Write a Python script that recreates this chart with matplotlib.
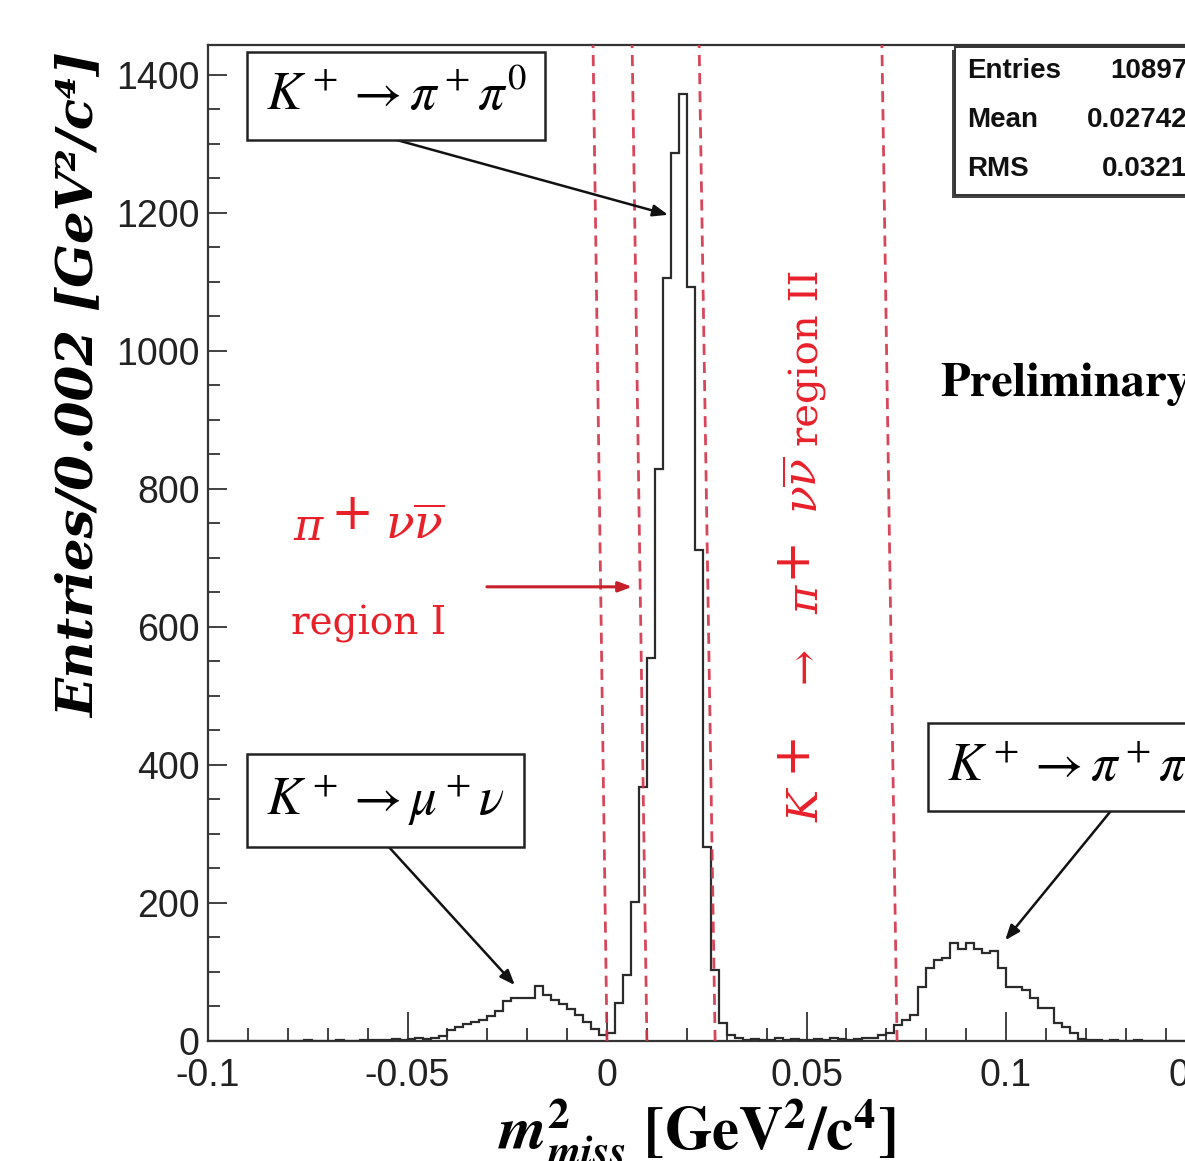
import matplotlib
matplotlib.use("Agg")
import matplotlib.pyplot as plt
import matplotlib.ticker as ticker
import numpy as np

plt.rcParams.update({
    "font.family": "Liberation Sans",
    "mathtext.fontset": "stix",
})

# ── data: missing-mass histogram, 0.002 wide bins from -0.1 to 0.15 ─────────
bin_lo, bin_hi, bin_w = -0.1, 0.15, 0.002
counts = [
    # -0.100 .. -0.060
    0, 0, 0, 0, 0, 0, 0, 0, 0, 0, 0, 0, 1, 0, 0, 0, 1, 0, 0, 1,
    # -0.060 .. -0.040
    1, 2, 1, 3, 2, 3, 4, 3, 5, 7,
    # -0.040 .. 0.000  (K+ -> mu+ nu tail)
    16, 20, 24, 28, 31, 36, 44, 58, 62, 62, 63, 80, 66, 60, 53, 46, 37, 28, 18, 8,
    # 0.000 .. 0.032  (K+ -> pi+ pi0 peak)
    12, 55, 96, 201, 368, 555, 828, 1106, 1287, 1372, 1093, 711, 281, 103, 26, 9,
    # 0.032 .. 0.070
    4, 2, 3, 1, 2, 4, 2, 3, 2, 1, 3, 2, 4, 3, 2, 3, 4, 5, 8,
    # 0.070 .. 0.120  (K+ -> 3 pi)
    12, 23, 30, 38, 78, 106, 117, 120, 142, 134, 142, 134, 127, 131, 106,
    78, 78, 74, 62, 48, 48, 26, 20, 12, 3,
    # 0.120 .. 0.150
    2, 1, 0, 1, 0, 0, 1, 0, 0, 0, 0, 0, 0, 0, 0,
]

# signal-region boundaries (hand-drawn, slightly slanted: bottom / top)
cut_bottom = [0.0, 0.0100, 0.0271, 0.0727]
cut_top    = [-0.0035, 0.0063, 0.0231, 0.0689]

stat_names  = ["Entries", "Mean", "RMS"]
stat_values = ["10897", "0.02742", "0.0321"]

x_ticks = [-0.1, -0.05, 0, 0.05, 0.1, 0.15]
x_ticklabels = ["-0.1", "-0.05", "0", "0.05", "0.1", "0.15"]
y_ticks = [0, 200, 400, 600, 800, 1000, 1200, 1400]

W, H = 1185, 1161


def px(x, y):
    """pixel position (from top-left) -> figure fraction"""
    return x / W, 1 - y / H


fig = plt.figure(figsize=(W / 100, H / 100), dpi=100)
ax = fig.add_axes([208 / W, 1 - 1041 / H, 997.5 / W, 996 / H])

edges = np.linspace(bin_lo, bin_hi, len(counts) + 1)
ax.stairs(counts, edges, color="#2b2b2b", linewidth=1.6, zorder=3)

ax.set_xlim(bin_lo, bin_hi)
ax.set_ylim(0, 1443)

# dashed region boundaries
ymax = ax.get_ylim()[1]
for xb, xt in zip(cut_bottom, cut_top):
    ax.plot([xb, xt], [0, ymax], color="#d3334a", linestyle=(0, (4, 2.5)),
            linewidth=2.0, alpha=0.9, zorder=4)

# ROOT-like axes
ax.set_xticks(x_ticks)
ax.set_xticklabels(x_ticklabels)
ax.set_yticks(y_ticks)
ax.xaxis.set_minor_locator(ticker.MultipleLocator(0.01))
ax.yaxis.set_minor_locator(ticker.MultipleLocator(50))
ax.tick_params(which="both", direction="in", top=False, right=False,
               width=1.3, color="#333333", labelsize=27, labelcolor="#222222")
ax.tick_params(axis="x", which="major", length=21, pad=12)
ax.tick_params(axis="x", which="minor", length=9.5)
ax.tick_params(axis="y", which="major", length=14, pad=6)
ax.tick_params(axis="y", which="minor", length=8.5)
for s in ax.spines.values():
    s.set_linewidth(1.6)
    s.set_color("#333333")

# axis titles
fig.text(*px(80, 385), "Entries/0.002 [GeV²/c⁴]", rotation=90,
         ha="center", va="center", fontsize=37, fontstyle="italic",
         fontweight="bold", family="DejaVu Serif")
fig.text(*px(697, 1150),
         r"$\mathbfit{m}^{\mathbf{2}}_{\mathbfit{miss}}$ [GeV$^{\mathbf{2}}$/c$^{\mathbf{4}}$]",
         ha="center", va="baseline", fontsize=44, fontweight="bold",
         family="STIXGeneral")

# decay-channel labels with arrows
box = dict(boxstyle="square,pad=0.36", facecolor="white", edgecolor="#222222",
           linewidth=1.8)
arrow = dict(arrowstyle="-|>,head_length=0.9,head_width=0.35", color="#111111",
             lw=1.8, shrinkA=0, shrinkB=0)

ax.text(-0.0529, 1369, r"$K^+ \rightarrow \pi^+\pi^0$", fontsize=38,
        ha="center", va="center", bbox=box, zorder=6)
ax.annotate("", xy=(0.0153, 1197), xytext=(-0.0531, 1306), arrowprops=arrow,
            zorder=5)

ax.text(-0.0556, 349, r"$K^+ \rightarrow \mu^+\nu$", fontsize=38,
        ha="center", va="center", bbox=box, zorder=6)
ax.annotate("", xy=(-0.0231, 81), xytext=(-0.0556, 287), arrowprops=arrow,
            zorder=5)

ax.text(0.0852, 397, r"$K^+ \rightarrow \pi^+\pi^+\pi^-$", fontsize=38,
        ha="left", va="center", bbox=box, zorder=6, clip_on=False)
ax.annotate("", xy=(0.0998, 146), xytext=(0.1261, 332), arrowprops=arrow,
            zorder=5)

# signal regions (red)
red = "#e8202a"
rkw = dict(color=red, math_fontfamily="dejavuserif")
# "pi+ nu nubar"  /  "region I"
fig.text(*px(293, 540), r"$\pi$", fontsize=32, ha="left", va="baseline", **rkw)
fig.text(*px(331, 529), "+", fontsize=37, ha="left", va="baseline",
         family="DejaVu Serif", color=red)
fig.text(*px(385, 540), r"$\nu\overline{\nu}$", fontsize=34, ha="left",
         va="baseline", **rkw)
fig.text(*px(291, 635), "region I", fontsize=28, ha="left", va="baseline",
         family="DejaVu Serif", color=red)
ax.annotate("", xy=(0.0063, 658), xytext=(-0.0301, 658),
            arrowprops=dict(arrowstyle="-|>,head_length=0.8,head_width=0.3",
                            color="#c8202a", lw=2.2, shrinkA=0, shrinkB=0),
            zorder=5)

# "K+ -> pi+ nu nubar region II", reading upwards
rot = dict(rotation=90, rotation_mode="anchor", ha="left", va="baseline")
fig.text(*px(818, 822), r"$K$", fontsize=31, **rot, **rkw)
fig.text(*px(805, 772), "+", fontsize=37, family="DejaVu Serif", color=red, **rot)
fig.text(*px(818, 694), r"$\rightarrow$", fontsize=31, **rot, **rkw)
fig.text(*px(818, 614), r"$\pi$", fontsize=31, **rot, **rkw)
fig.text(*px(805, 578), "+", fontsize=37, family="DejaVu Serif", color=red, **rot)
fig.text(*px(818, 514), r"$\nu\overline{\nu}$", fontsize=33, **rot, **rkw)
fig.text(*px(818, 446), "region II", fontsize=29, family="DejaVu Serif",
         color=red, **rot)

ax.text(0.0835, 951, "Preliminary", fontsize=35, fontweight="bold",
        ha="left", va="center", family="STIXGeneral", clip_on=False)

# statistics box (ROOT style)
sx0, sy0, sx1, sy1 = 955, 47, 1206, 195
fig.patches.append(plt.Rectangle((sx0 / W - 3 / W, 1 - (sy1 + 3) / H),
                                 (sx1 - sx0) / W, (sy1 - sy0) / H,
                                 transform=fig.transFigure, facecolor="#444444",
                                 edgecolor="none", zorder=7))
fig.patches.append(plt.Rectangle((sx0 / W, 1 - sy1 / H), (sx1 - sx0) / W,
                                 (sy1 - sy0) / H, transform=fig.transFigure,
                                 facecolor="white", edgecolor="#333333",
                                 linewidth=1.4, zorder=8))
for i, (name, val) in enumerate(zip(stat_names, stat_values)):
    yy = 71 + 49 * i
    fig.text(*px(967, yy), name, fontsize=20, fontweight="bold",
             ha="left", va="center", color="#111111", zorder=9)
    fig.text(*px(1187, yy), val, fontsize=20, fontweight="bold",
             ha="right", va="center", color="#111111", zorder=9)

fig.savefig("out.png", dpi=100)
